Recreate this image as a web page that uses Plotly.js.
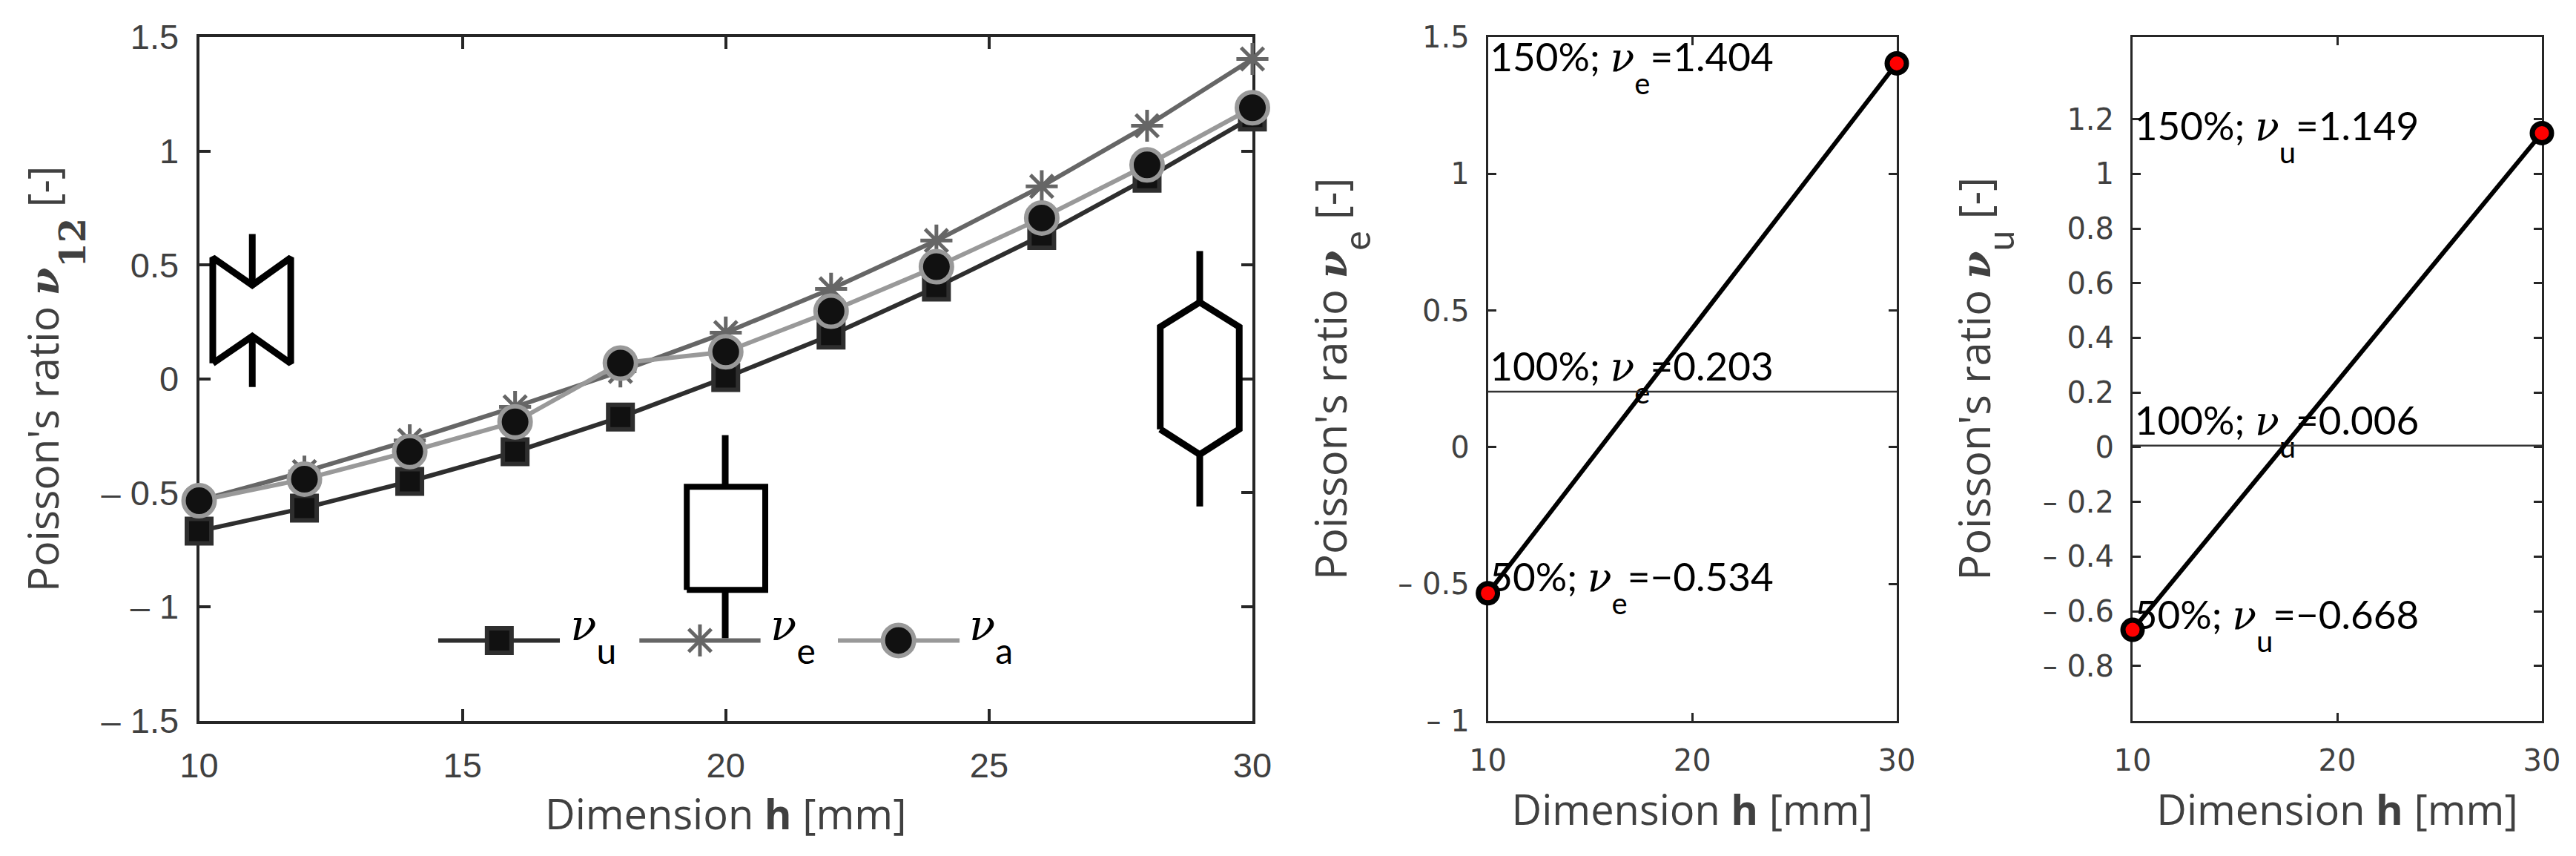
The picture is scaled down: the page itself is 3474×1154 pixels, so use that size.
<!DOCTYPE html>
<html><head><meta charset="utf-8">
<script src="https://cdn.plot.ly/plotly-3.0.1.min.js"></script>
<style>html,body{margin:0;padding:0;background:#fff}</style></head>
<body><div id="chart" style="width:3474px;height:1154px"></div>
<script>
// ---- data ----
const hValues = [10,12,14,16,18,20,22,24,26,28,30];
const nuU = [-0.668,-0.567,-0.45,-0.32,-0.168,0.006,0.192,0.403,0.629,0.881,1.149];
const nuE = [-0.534,-0.407,-0.27,-0.123,0.033,0.203,0.395,0.607,0.845,1.111,1.404];
const nuA = [-0.535,-0.44,-0.319,-0.189,0.069,0.119,0.297,0.492,0.706,0.939,1.19];
const endsX = [10,30];
const midX = [10,30];
const eEnds = [-0.534,1.404], eMid = [0.203,0.203];
const uEnds = [-0.668,1.149], uMid = [0.006,0.006];
const xTicks1 = [10,15,20,25,30];
const xTicks23 = [10,20,30];
const yTicks1 = [1.5,1,0.5,0,-0.5,-1,-1.5];
const yTickText1 = ['1.5','1','0.5','0','– 0.5','– 1','– 1.5'];
const yTicks2 = [1.5,1,0.5,0,-0.5,-1];
const yTickText2 = ['1.5','1','0.5','0','– 0.5','– 1'];
const yTicks3 = [1.2,1,0.8,0.6,0.4,0.2,0,-0.2,-0.4,-0.6,-0.8];
const yTickText3 = ['1.2','1','0.8','0.6','0.4','0.2','0','– 0.2','– 0.4','– 0.6','– 0.8'];
// legend samples
const keyY = -1.148, keyLabelY = -1.097;
const keyUx = [14.54,15.7,16.85], keyEx = [18.36,19.51,20.66], keyAx = [22.13,23.28,24.44];
// specimen sketches (drawn in data units of the left panel)
const bowX = [10.26,10.26,11.01,11.74,11.74,11.01,10.26], bowY = [0.068,0.532,0.411,0.532,0.068,0.187,0.068];
const bowWhiskX = [11.01,11.01,null,11.01,11.01], bowWhiskY = [0.636,0.411,null,0.187,-0.036];
const rectX = [19.26,19.26,20.75,20.75,19.26], rectY = [-0.926,-0.474,-0.474,-0.926,-0.926];
const rectWhiskX = [19.99,19.99,null,19.99,19.99], rectWhiskY = [-0.247,-0.474,null,-0.926,-1.139];
const hexX = [28.25,28.25,29,29.75,29.75,29,28.25], hexY = [-0.221,0.228,0.336,0.228,-0.221,-0.332,-0.221];
const hexWhiskX = [29,29,null,29,29], hexWhiskY = [0.561,0.336,null,-0.332,-0.56];

// ---- style ----
const W = 3474, H = 1154;
const dom = (a,b)=>[a/W,b/W];
const yDom = [1-971.5/H, 1-50/H];
const grey = '#404040', axisCol = '#262626';
const MAIN = 'Lato', TITLE = 'Open Sans';
const nu = (px,fam="DejaVu Serif") => `<i><span style="font-family:'${fam}';font-size:${px}px">ν</span></i>`;
const sub = (px,t,drop,fam=MAIN) => `<span style="font-family:'${fam}';font-size:${px}px;baseline-shift:-${drop}px">${t}</span>`;

function note(s,pre,val){ return pre+' '+nu(54)+sub(40,s,31)+'='+val; }
function txt(x,y,t,ax,ay){
  return {x:[x],y:[y],text:[t],mode:'text',textposition:'top right',textfont:{size:53,color:'#000',family:MAIN},
    xaxis:ax,yaxis:ay,showlegend:false,cliponaxis:false,hoverinfo:'skip'};
}
const lw = 6;
const sU = {mode:'lines+markers',line:{color:'#2e2e2e',width:lw},marker:{symbol:'square',size:33,color:'#111',line:{color:'#2e2e2e',width:6}},cliponaxis:false};
const sE = {mode:'lines+markers',line:{color:'#666',width:lw},marker:{symbol:'asterisk-open',size:36,color:'#666',line:{color:'#666',width:5}},cliponaxis:false};
const sA = {mode:'lines+markers',line:{color:'#999',width:lw},marker:{symbol:'circle',size:42,color:'#111',line:{color:'#999',width:6}},cliponaxis:false};
const ice = (x,y,w)=>({x,y,mode:'lines',line:{color:'#000',width:w},showlegend:false,cliponaxis:false,hoverinfo:'skip'});
const key = (xs,s,name)=>[
  Object.assign({},s,{x:[xs[0],xs[2]],y:[keyY,keyY],mode:'lines',name,showlegend:false}),
  Object.assign({},s,{x:[xs[1]],y:[keyY],mode:'markers',name,showlegend:false})];

const legendLabel = (x,s)=>({x:[x],y:[keyLabelY],mode:'text',textposition:'middle right',
  text:[nu(58)+sub(48,s,32)],textfont:{size:60,color:'#000',family:MAIN},showlegend:false,cliponaxis:false,hoverinfo:'skip'});

const endTrace=(x,y,ax,ay)=>({x,y,xaxis:ax,yaxis:ay,mode:'lines+markers',line:{color:'#000',width:6},
  marker:{symbol:'circle',size:26,color:'#f00',line:{color:'#000',width:7}},showlegend:false,cliponaxis:false});
const midTrace=(x,y,ax,ay)=>({x,y,xaxis:ax,yaxis:ay,mode:'lines',line:{color:'#333',width:2.5},showlegend:false});

const traces = [
  ice(bowX,bowY,9),ice(bowWhiskX,bowWhiskY,9),
  ice(rectX,rectY,8),ice(rectWhiskX,rectWhiskY,9),
  ice(hexX,hexY,9),ice(hexWhiskX,hexWhiskY,9),
  Object.assign({},sU,{x:hValues,y:nuU,name:'νu',showlegend:false}),
  Object.assign({},sE,{x:hValues,y:nuE,name:'νe',showlegend:false}),
  Object.assign({},sA,{x:hValues,y:nuA,name:'νa',showlegend:false}),
  ...key(keyUx,sU,'νu'),...key(keyEx,sE,'νe'),...key(keyAx,sA,'νa'),
  legendLabel(17.05,'u'),legendLabel(20.85,'e'),legendLabel(24.62,'a'),
  txt(10.1,1.34,note('e','150%;','1.404'),'x2','y2'),
  txt(10.1,0.208,note('e','100%;','0.203'),'x2','y2'),
  txt(10.1,-0.563,note('e','50%;','−0.534'),'x2','y2'),
  midTrace(midX,eMid,'x2','y2'),endTrace(endsX,eEnds,'x2','y2'),
  txt(10.1,1.088,note('u','150%;','1.149'),'x3','y3'),
  txt(10.1,0.01,note('u','100%;','0.006'),'x3','y3'),
  txt(10.1,-0.70,note('u','50%;','−0.668'),'x3','y3'),
  midTrace(midX,uMid,'x3','y3'),endTrace(endsX,uEnds,'x3','y3'),
];

const xAxis = (domain,ticks,len,anchor,tw,standoff)=>({domain,range:[10,30],tickmode:'array',tickvals:ticks,ticktext:ticks.map(String),
  ticks:'inside',ticklen:len,tickwidth:tw,tickcolor:axisCol,showline:true,linecolor:axisCol,linewidth:tw,mirror:'ticks',zeroline:false,showgrid:false,
  anchor,layer:'below traces',automargin:false,ticklabelstandoff:16,
  title:{text:'Dimension <b>h</b> [mm]',font:{family:TITLE,size:56,color:grey},standoff}});
const yAxis = (vals,text,len,anchor,tw,font,title,standoff,size)=>({domain:yDom,range:[-1.5,1.5],tickmode:'array',tickvals:vals,ticktext:text,
  ticks:'inside',ticklen:len,tickwidth:tw,tickcolor:axisCol,showline:true,linecolor:axisCol,linewidth:tw,mirror:'ticks',zeroline:false,showgrid:false,
  anchor,layer:'below traces',automargin:false,ticklabelstandoff:14,tickfont:font,
  title:{text:title,font:{family:TITLE,size,color:grey},standoff}});
const f1={family:'Liberation Sans',size:47,color:grey}, f2={family:'DejaVu Sans',size:40,color:grey};
const yTitle=(subHtml)=>"Poisson's ratio "+`<b>${nu(54)}</b>`+subHtml+' [-]';

const layout = {width:W,height:H,margin:{l:0,r:0,t:0,b:0},paper_bgcolor:'#fff',plot_bgcolor:'#fff',showlegend:false,
  font:{family:MAIN,color:grey},
  xaxis:Object.assign(xAxis(dom(268.5,1689),xTicks1,16,'y',4,1),{tickfont:f1}),
  yaxis:yAxis(yTicks1,yTickText1,15,'x',4,f1,yTitle(sub(48,'<b>12</b>',36,'DejaVu Serif')),40,57),
  xaxis2:Object.assign(xAxis(dom(2006.6,2558),xTicks23,11,'y2',3,27),{tickfont:f2}),
  yaxis2:Object.assign(yAxis(yTicks2,yTickText2,11,'x2',3,f2,yTitle(sub(50,'e',32)),50,58),{range:[-1,1.5]}),
  xaxis3:Object.assign(xAxis(dom(2876,3428),xTicks23,11,'y3',3,27),{tickfont:f2}),
  yaxis3:Object.assign(yAxis(yTicks3,yTickText3,11,'x3',3,f2,yTitle(sub(50,'u',32)),52,58),{range:[-1,1.5]}),
};
Plotly.newPlot('chart',traces,layout,{displayModeBar:false,staticPlot:true});
</script></body></html>
